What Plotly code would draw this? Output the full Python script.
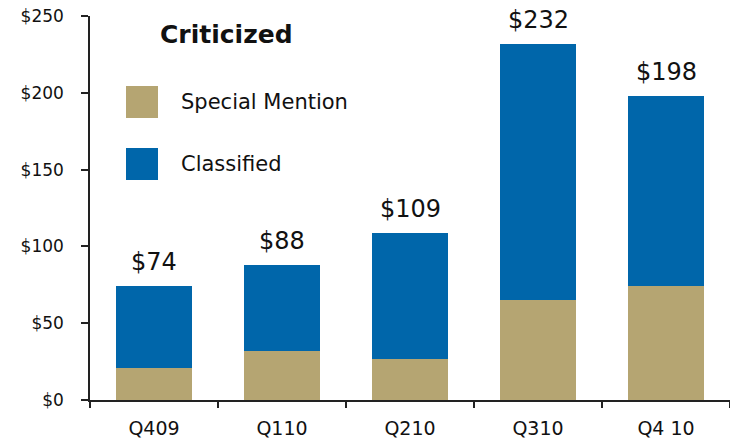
import plotly.graph_objects as go

categories = ["Q409", "Q110", "Q210", "Q310", "Q4 10"]
special_mention = [21, 32, 27, 65, 74]
totals = [74, 88, 109, 232, 198]
classified = [t - s for t, s in zip(totals, special_mention)]
y_ticks = [0, 50, 100, 150, 200, 250]

TAN = "#B5A572"
BLUE = "#0066AA"
FONT = "DejaVu Sans"

fig = go.Figure()
fig.add_trace(go.Bar(x=categories, y=special_mention, name="Special Mention",
                     marker=dict(color=TAN, line=dict(width=0)), width=0.6))
fig.add_trace(go.Bar(x=categories, y=classified, name="Classified",
                     marker=dict(color=BLUE, line=dict(width=0)), width=0.6))

for c, t in zip(categories, totals):
    fig.add_annotation(x=c, y=t, text=f"${t}", showarrow=False, yanchor="bottom",
                       yshift=8, font=dict(family=FONT, size=24, color="#111"))

# legend drawn as decoration
fig.add_annotation(xref="paper", yref="paper", x=(158-90)/640, y=(400-35)/384,
                   xanchor="left", yanchor="middle", showarrow=False,
                   text="<b>Criticized</b>", font=dict(family=FONT, size=25, color="#111"))
for name, col, yc in [("Special Mention", TAN, 102), ("Classified", BLUE, 164)]:
    fig.add_shape(type="rect", xref="paper", yref="paper",
                  x0=(126-90)/640, x1=(158-90)/640,
                  y0=(400-yc-16)/384, y1=(400-yc+16)/384,
                  fillcolor=col, line=dict(width=0))
    fig.add_annotation(xref="paper", yref="paper", x=(179-90)/640, y=(400-yc)/384,
                       xanchor="left", yanchor="middle", showarrow=False,
                       text=name, font=dict(family=FONT, size=21, color="#111"))

fig.update_layout(
    width=730, height=442, barmode="stack", showlegend=False,
    margin=dict(l=90, r=0, t=16, b=42),
    plot_bgcolor="white", paper_bgcolor="white",
    font=dict(family=FONT, color="#111"),
    bargap=0.4,
)
fig.update_xaxes(type="category", range=[-0.5, 4.5], showline=True, linecolor="#222",
                 linewidth=1.5, ticks="outside", tickson="boundaries", ticklen=6,
                 tickcolor="#222", tickwidth=1.5, showgrid=False,
                 tickfont=dict(family=FONT, size=19, color="#111"), ticklabelstandoff=10)
fig.update_yaxes(range=[0, 250], tickvals=y_ticks, ticktext=[f"${v}" for v in y_ticks],
                 showline=True, linecolor="#222", linewidth=1.5, ticks="outside",
                 ticklen=7, tickcolor="#222", tickwidth=1.5, showgrid=False, zeroline=False,
                 tickfont=dict(family=FONT, size=17, color="#111"), ticklabelstandoff=14)

fig.write_html("out.html", config={"displayModeBar": False},
               post_script="document.body.style.margin='0';")
